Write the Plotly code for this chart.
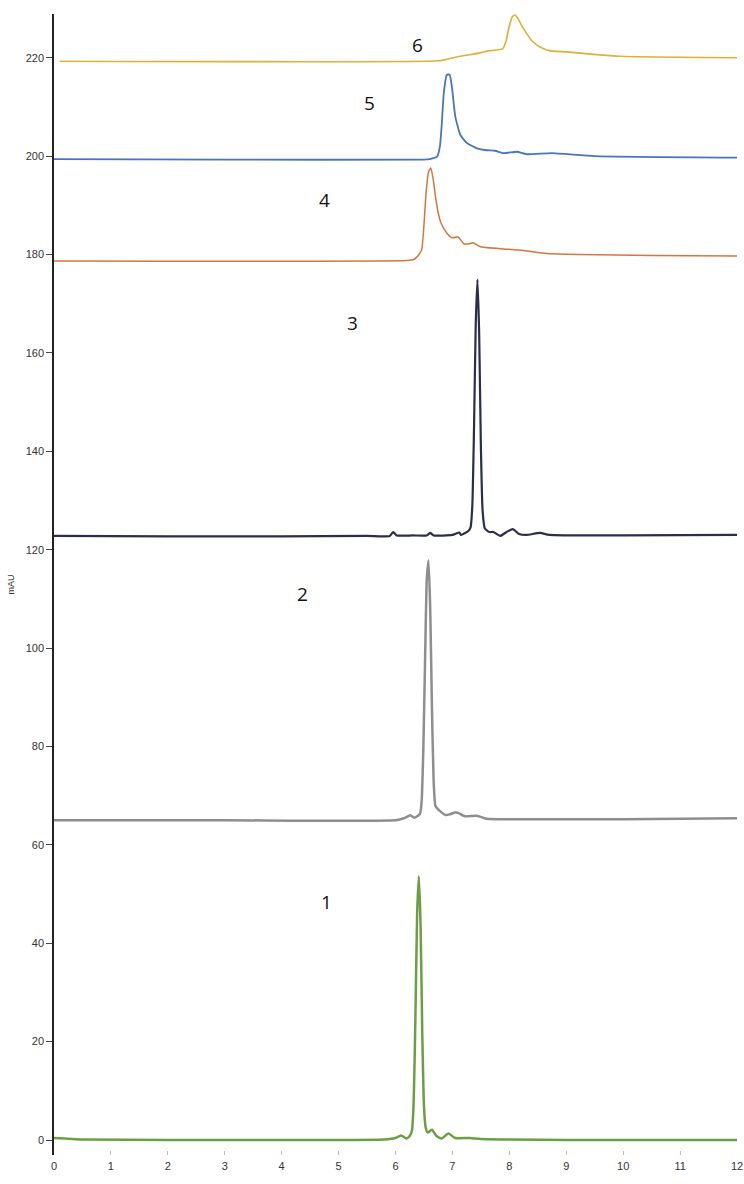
import plotly.graph_objects as go

# ---- data (retention time in min, absorbance in mAU) ----
t1 = [0, 0.5, 2, 4, 5.8, 6.0, 6.1, 6.19, 6.25, 6.29, 6.32, 6.35, 6.38, 6.41, 6.44, 6.47, 6.50, 6.53, 6.57, 6.64, 6.72, 6.81, 6.93, 7.05, 7.3, 7.5, 8, 9, 10, 12]
y1 = [0.4, 0.1, 0.0, 0.0, 0.1, 0.4, 0.9, 0.3, 0.8, 2.0, 8, 25, 46, 53.6, 44, 22, 7, 2.5, 1.5, 2.1, 0.8, 0.3, 1.3, 0.4, 0.4, 0.2, 0.1, 0.0, 0.0, 0.0]

t2 = [0, 3, 6, 6.15, 6.26, 6.33, 6.43, 6.46, 6.49, 6.52, 6.55, 6.58, 6.61, 6.64, 6.67, 6.70, 6.74, 6.87, 6.95, 7.05, 7.1, 7.22, 7.43, 7.6, 8.5, 10, 12]
y2 = [65.0, 65.0, 65.0, 65.4, 66.0, 65.5, 66.3, 69, 80, 98, 114, 117.8, 108, 88, 73, 68, 67.3, 66.1, 66.2, 66.6, 66.5, 65.8, 65.9, 65.3, 65.2, 65.2, 65.4]

t3 = [0, 2, 4, 5.5, 5.9, 5.96, 6.02, 6.3, 6.55, 6.61, 6.67, 7.0, 7.12, 7.15, 7.28, 7.32, 7.35, 7.38, 7.41, 7.44, 7.47, 7.50, 7.53, 7.57, 7.65, 7.72, 7.84, 7.95, 8.06, 8.17, 8.3, 8.54, 8.7, 10, 12]
y3 = [122.8, 122.7, 122.7, 122.8, 122.8, 123.6, 122.9, 122.9, 122.9, 123.4, 122.9, 123.0, 123.5, 123.0, 123.8, 124.6, 129, 145, 166, 174.9, 164, 141, 128, 124.3, 123.6, 123.6, 122.8, 123.6, 124.2, 123.2, 123.0, 123.4, 123.0, 122.9, 123.0]

t4 = [0, 6.2, 6.32, 6.40, 6.46, 6.50, 6.54, 6.58, 6.62, 6.66, 6.70, 6.75, 6.80, 6.90, 7.0, 7.1, 7.2, 7.3, 7.36, 7.49, 7.84, 8.25, 8.66, 9.24, 10.5, 12]
y4 = [178.7, 178.8, 179.0, 179.8, 181.0, 186, 193, 196.8, 197.6, 195.5, 192, 188.5, 186.4, 184.4, 183.4, 183.6, 182.2, 182.2, 182.4, 181.6, 181.2, 180.8, 180.2, 180.0, 179.8, 179.7]

t5 = [0, 3, 6.5, 6.6, 6.73, 6.78, 6.81, 6.85, 6.90, 6.95, 6.99, 7.05, 7.14, 7.25, 7.43, 7.6, 7.75, 7.9, 8.13, 8.3, 8.75, 9.5, 12]
y5 = [199.4, 199.3, 199.3, 199.4, 199.9, 202, 206, 213, 216.5, 216.6, 214.2, 208.1, 204.3, 202.7, 201.6, 201.2, 201.1, 200.6, 200.9, 200.4, 200.6, 200.0, 199.7]

t6 = [0.1, 6.78, 6.90, 7.14, 7.49, 7.63, 7.88, 7.94, 7.99, 8.05, 8.10, 8.15, 8.22, 8.30, 8.40, 8.54, 8.72, 9.01, 9.48, 9.95, 12]
y6 = [219.3, 219.4, 219.7, 220.3, 221.0, 221.4, 221.8, 223.3, 226, 228.3, 228.7, 228.0, 226.5, 225.0, 223.4, 222.2, 221.4, 221.2, 220.7, 220.3, 220.0]

labels = ["1", "2", "3", "4", "5", "6"]
label_x = [4.78, 4.36, 5.25, 4.76, 5.55, 6.38]
label_y = [48.4, 111.0, 166.1, 191.1, 210.9, 222.7]

x_ticks = list(range(0, 13))
y_ticks = list(range(0, 221, 20))

series = [
    (t1, y1, "#6c9f45", 2.5),
    (t2, y2, "#8e8e8e", 2.5),
    (t3, y3, "#2b2d4c", 2.2),
    (t4, y4, "#d4773f", 1.5),
    (t5, y5, "#4a74c2", 1.8),
    (t6, y6, "#e0b035", 1.6),
]

fig = go.Figure()
for t, y, c, w in series:
    fig.add_trace(go.Scatter(x=t, y=y, mode="lines",
                             line=dict(color=c, width=w, shape="spline", smoothing=0.5),
                             showlegend=False, hoverinfo="skip"))

for lab, lx, ly in zip(labels, label_x, label_y):
    fig.add_annotation(x=lx, y=ly, text=lab, showarrow=False,
                       font=dict(family="Open Sans, Liberation Sans, sans-serif",
                                 size=19, color="#111111"))

fig.update_layout(
    width=744, height=1184,
    margin=dict(l=54, r=7, t=14, b=29),
    paper_bgcolor="white", plot_bgcolor="white",
    font=dict(family="Liberation Sans, Arial, sans-serif", size=11, color="#333333"),
)
fig.update_xaxes(range=[0, 12], tickvals=x_ticks, ticks="inside", ticklen=4,
                 tickcolor="#bbbbbb", tickwidth=1, showline=False,
                 showgrid=False, zeroline=False, automargin=False,
                 ticklabelstandoff=3,
                 tickfont=dict(size=11, color="#333333"))
fig.update_yaxes(range=[-3.05, 228.9], tickvals=y_ticks, ticks="outside",
                 ticklen=6, tickcolor="#444444", tickwidth=1,
                 showline=True, linecolor="#222222", linewidth=1.5,
                 showgrid=False, zeroline=False, automargin=False,
                 tickfont=dict(size=11, color="#333333"),
                 title=dict(text="mAU", font=dict(size=9, color="#333333"),
                            standoff=10))

fig.write_html("out.html")
